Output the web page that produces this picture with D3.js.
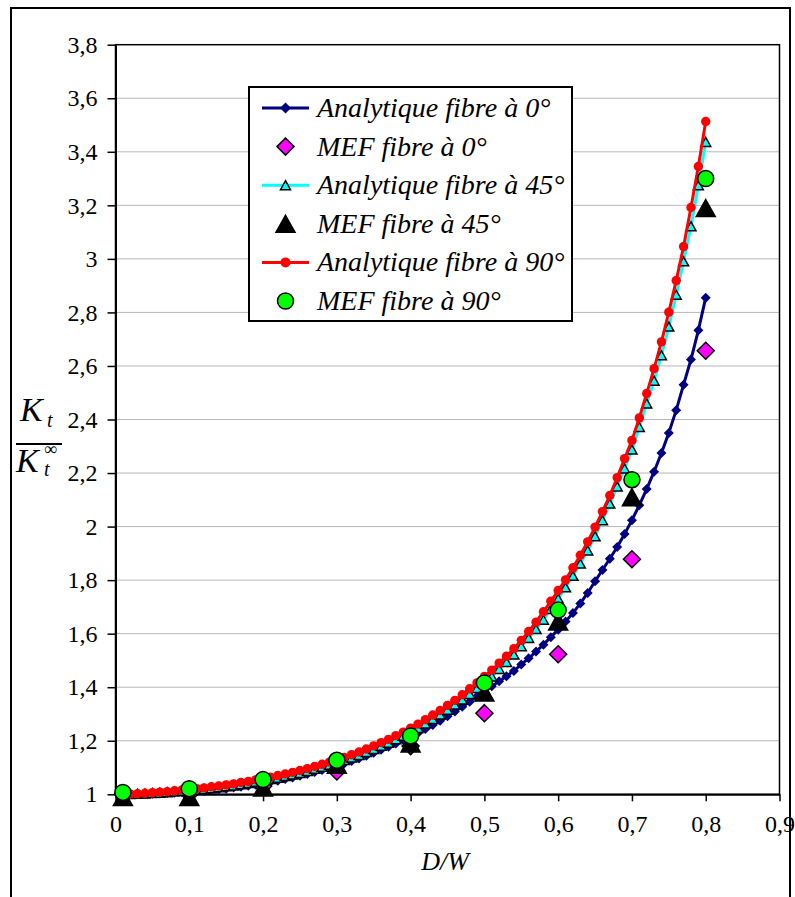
<!DOCTYPE html>
<html><head><meta charset="utf-8">
<script src="https://cdn.jsdelivr.net/npm/d3@7"></script>
<style>body{margin:0;background:#fff}svg{display:block}
text{font-family:"Liberation Serif","Tinos","Times New Roman","Nimbus Roman","DejaVu Serif",serif}</style>
</head><body><svg id="c" width="795" height="897"></svg>
<script>
// ---------- data ----------
const dw = [0.01,0.02,0.03,0.04,0.05,0.06,0.07,0.08,0.09,0.10,
            0.11,0.12,0.13,0.14,0.15,0.16,0.17,0.18,0.19,0.20,
            0.21,0.22,0.23,0.24,0.25,0.26,0.27,0.28,0.29,0.30,
            0.31,0.32,0.33,0.34,0.35,0.36,0.37,0.38,0.39,0.40,
            0.41,0.42,0.43,0.44,0.45,0.46,0.47,0.48,0.49,0.50,
            0.51,0.52,0.53,0.54,0.55,0.56,0.57,0.58,0.59,0.60,
            0.61,0.62,0.63,0.64,0.65,0.66,0.67,0.68,0.69,0.70,
            0.71,0.72,0.73,0.74,0.75,0.76,0.77,0.78,0.79,0.80];
const anaFibre0 = [1.000,1.000,1.001,1.001,1.002,1.003,1.005,1.006,1.008,1.008,
                   1.010,1.012,1.015,1.018,1.021,1.025,1.028,1.032,1.036,1.041,
                   1.046,1.051,1.057,1.063,1.069,1.076,1.083,1.091,1.098,1.106,
                   1.115,1.124,1.134,1.144,1.155,1.166,1.178,1.190,1.203,1.215,
                   1.229,1.244,1.259,1.275,1.292,1.309,1.327,1.346,1.366,1.387,
                   1.404,1.422,1.441,1.461,1.485,1.508,1.533,1.559,1.587,1.615,
                   1.645,1.677,1.713,1.752,1.796,1.838,1.880,1.924,1.972,2.024,
                   2.080,2.140,2.205,2.275,2.350,2.435,2.530,2.624,2.733,2.855];
const anaFibre45 = [1.000,1.001,1.002,1.003,1.005,1.006,1.008,1.010,1.013,1.014,
                    1.017,1.020,1.023,1.026,1.030,1.033,1.038,1.042,1.047,1.052,
                    1.057,1.062,1.068,1.074,1.080,1.087,1.095,1.103,1.110,1.119,
                    1.128,1.137,1.147,1.158,1.169,1.181,1.193,1.206,1.219,1.233,
                    1.248,1.264,1.281,1.298,1.316,1.335,1.354,1.375,1.397,1.420,
                    1.440,1.468,1.494,1.522,1.553,1.584,1.617,1.652,1.692,1.731,
                    1.773,1.816,1.862,1.911,1.964,2.024,2.086,2.150,2.217,2.288,
                    2.372,2.460,2.545,2.640,2.747,2.866,2.991,3.122,3.275,3.437];
const anaFibre90 = [1.000,1.001,1.002,1.004,1.006,1.008,1.010,1.013,1.016,1.018,
                    1.021,1.024,1.028,1.031,1.035,1.039,1.044,1.048,1.054,1.059,
                    1.064,1.070,1.076,1.082,1.089,1.096,1.104,1.112,1.120,1.129,
                    1.138,1.148,1.158,1.169,1.181,1.193,1.205,1.219,1.232,1.247,
                    1.262,1.279,1.296,1.313,1.332,1.351,1.372,1.394,1.416,1.440,
                    1.464,1.490,1.516,1.544,1.575,1.608,1.643,1.682,1.721,1.761,
                    1.801,1.846,1.893,1.943,1.998,2.056,2.116,2.183,2.254,2.322,
                    2.406,2.497,2.590,2.690,2.801,2.919,3.046,3.192,3.345,3.513];
const mefX = [0.01,0.1,0.2,0.3,0.4,0.5,0.6,0.7,0.8];
const mefFibre0  = [1.000,1.000,1.030,1.085,1.180,1.303,1.523,1.878,2.657];
const mefFibre45 = [0.990,0.990,1.025,1.110,1.190,1.380,1.645,2.110,3.190];
const mefFibre90 = [1.007,1.021,1.055,1.127,1.218,1.416,1.688,2.175,3.300];
const yTicks = [1,1.2,1.4,1.6,1.8,2,2.2,2.4,2.6,2.8,3,3.2,3.4,3.6,3.8];
const xTicks = [0,0.1,0.2,0.3,0.4,0.5,0.6,0.7,0.8,0.9];
const legendLabels = ["Analytique fibre à 0°","MEF fibre à 0°","Analytique fibre à 45°",
                      "MEF fibre à 45°","Analytique fibre à 90°","MEF fibre à 90°"];
const xTitle = "D/W";

// ---------- layout ----------
const svg = d3.select("#c");
const L = 115.5, R = 779.5, T = 44.7, B = 794.3;
const x = d3.scaleLinear().domain([0, 0.9]).range([L, R]);
const y = d3.scaleLinear().domain([1, 3.8]).range([B, T]);
const serif = '"Liberation Serif","Tinos","Times New Roman","Nimbus Roman","DejaVu Serif",serif';
const comma = d => String(+(+d).toFixed(1)).replace(".", ",");

// outer frame
svg.append("rect").attr("x",11).attr("y",8).attr("width",779).attr("height",900)
  .attr("fill","none").attr("stroke","#000").attr("stroke-width",2);

// gridlines
svg.append("g").selectAll("line").data(yTicks.filter(v => v > 1 && v < 3.8)).join("line")
  .attr("x1", L).attr("x2", R).attr("y1", d => y(d)).attr("y2", d => y(d))
  .attr("stroke", "#707070").attr("stroke-width", 1).attr("stroke-dasharray", "1,1");

// plot border
svg.append("rect").attr("x",L).attr("y",T).attr("width",R-L).attr("height",B-T)
  .attr("fill","none").attr("stroke","#000").attr("stroke-width",1.5);

// axes
const yAxis = svg.append("g").attr("transform",`translate(${L},0)`)
  .call(d3.axisLeft(y).tickValues(yTicks).tickSize(8).tickSizeOuter(0).tickPadding(10).tickFormat(comma));
const xAxis = svg.append("g").attr("transform",`translate(0,${B})`)
  .call(d3.axisBottom(x).tickValues(xTicks).tickSize(7).tickSizeOuter(0).tickPadding(14).tickFormat(comma));
[yAxis, xAxis].forEach(a => {
  a.attr("font-family", null);
  a.select(".domain").attr("stroke","#000").attr("stroke-width",2);
  a.selectAll(".tick line").attr("stroke","#000").attr("stroke-width",1.5);
  a.selectAll(".tick text").attr("fill","#000").style("font-family",serif).style("font-size","24px");
});

// marker shapes
function diamond(r){ return `M0,${-r}L${r},0L0,${r}L${-r},0Z`; }
function triangle(w,h){ return `M0,${-h/2}L${w/2},${h/2}L${-w/2},${h/2}Z`; }
function circle(r){ return `M${r},0A${r},${r},0,1,1,${-r},0A${r},${r},0,1,1,${r},0Z`; }

const line = d3.line().x(d => x(d[0])).y(d => y(d[1]));
const pts = vals => dw.map((v,i) => [v, vals[i]]);
const mpts = vals => mefX.map((v,i) => [v, vals[i]]);

const series = [
  {type:"line", data: pts(anaFibre0), color:"#000080", marker: diamond(5), mfill:"#000080", mstroke:"none", lmarker: diamond(5.5)},
  {type:"pts", data: mpts(mefFibre0), marker: diamond(8.5), mfill:"#FF00FF", mstroke:"#000", lmarker: diamond(8.5)},
  {type:"line", data: pts(anaFibre45), color:"#00FFFF", marker: triangle(10,9), mfill:"#00FFFF", mstroke:"#000", lmarker: triangle(10,9)},
  {type:"pts", data: mpts(mefFibre45), marker: triangle(19,17), mfill:"#000", mstroke:"#000", lmarker: triangle(19,17)},
  {type:"line", data: pts(anaFibre90), color:"#FF0000", marker: circle(4.7), mfill:"#FF0000", mstroke:"none", lmarker: circle(5)},
  {type:"pts", data: mpts(mefFibre90), marker: circle(8), mfill:"#00FF00", mstroke:"#000", lmarker: circle(8)}
];

series.forEach(s => {
  const g = svg.append("g");
  if (s.type === "line") {
    g.append("path").attr("d", line(s.data)).attr("fill","none")
      .attr("stroke", s.color).attr("stroke-width", 3).attr("stroke-linejoin","round");
  }
  g.selectAll("path.m").data(s.data).join("path").attr("class","m")
    .attr("transform", d => `translate(${x(d[0])},${y(d[1])})`)
    .attr("d", s.marker).attr("fill", s.mfill)
    .attr("stroke", s.mstroke).attr("stroke-width", s.mstroke === "none" ? 0 : 1.5);
});

// legend
const lg = svg.append("g");
lg.append("rect").attr("x",249).attr("y",87).attr("width",323).attr("height",234)
  .attr("fill","#fff").attr("stroke","#000").attr("stroke-width",2);
const ly = d3.scalePoint().domain(d3.range(legendLabels.length)).range([108, 301]);
series.forEach((s, i) => {
  const cy = ly(i);
  if (s.type === "line") {
    lg.append("line").attr("x1",262).attr("x2",309).attr("y1",cy).attr("y2",cy)
      .attr("stroke", s.color).attr("stroke-width", 3);
  }
  lg.append("path").attr("transform",`translate(285.5,${cy})`).attr("d", s.lmarker)
    .attr("fill", s.mfill).attr("stroke", s.mstroke).attr("stroke-width", s.mstroke === "none" ? 0 : 1.5);
  lg.append("text").attr("x",317).attr("y",cy+9).text(legendLabels[i])
    .style("font-family",serif).style("font-style","italic").style("font-size","28px").attr("fill","#000");
});

// x title
svg.append("text").attr("x",445).attr("y",870).attr("text-anchor","middle").text(xTitle)
  .style("font-family",serif).style("font-style","italic").style("font-size","26px");

// y title (fraction)
const yt = svg.append("g").style("font-family",serif).style("font-style","italic");
yt.append("text").attr("x",20).attr("y",421).text("K").style("font-size","34px");
yt.append("text").attr("x",47).attr("y",427).text("t").style("font-size","20px");
yt.append("line").attr("x1",16).attr("x2",62).attr("y1",444).attr("y2",444).attr("stroke","#000").attr("stroke-width",2);
yt.append("text").attr("x",16).attr("y",472).text("K").style("font-size","34px");
yt.append("text").attr("x",44).attr("y",455).text("∞").style("font-size","18px").style("font-style","normal");
yt.append("text").attr("x",44).attr("y",476).text("t").style("font-size","20px");
</script>
</body></html>
